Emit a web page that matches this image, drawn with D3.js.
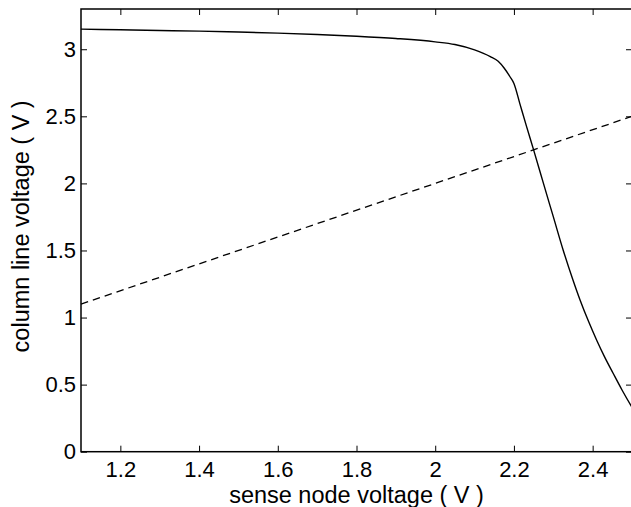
<!DOCTYPE html>
<html>
<head>
<meta charset="utf-8">
<script src="https://cdn.jsdelivr.net/npm/d3@7"></script>
<style>
  html, body { margin: 0; padding: 0; background: #fff; }
  svg { display: block; }
  text { font-family: "Liberation Sans", Arial, Helvetica, sans-serif; fill: #000; }
</style>
</head>
<body>
<svg id="chart" width="631" height="507"></svg>
<script>
// ---- data ----
const senseVoltage = [1.1, 1.2, 1.3, 1.4, 1.5, 1.6, 1.7, 1.8, 1.9, 2.0, 2.05, 2.1, 2.14, 2.16, 2.175, 2.19, 2.2, 2.215, 2.232, 2.25, 2.275, 2.3, 2.325, 2.35, 2.368, 2.39, 2.41, 2.43, 2.452, 2.475, 2.5];
const columnVoltage = [3.15, 3.145, 3.14, 3.135, 3.128, 3.12, 3.11, 3.097, 3.08, 3.055, 3.035, 2.995, 2.945, 2.91, 2.86, 2.795, 2.745, 2.595, 2.425, 2.25, 2.0, 1.752, 1.504, 1.28, 1.131, 0.968, 0.833, 0.709, 0.585, 0.458, 0.33];
const diagonalX = [1.1, 2.5];
const diagonalY = [1.1, 2.5];
const xTicks = [1.2, 1.4, 1.6, 1.8, 2.0, 2.2, 2.4];
const yTicks = [0, 0.5, 1, 1.5, 2, 2.5, 3];
const xDomain = [1.1, 2.5];
const yDomain = [0, 3.3];
const xTitle = "sense node voltage ( V )";
const yTitle = "column line voltage ( V )";

// ---- layout ----
const mLeft = 81, mRight = 632, mTop = 9, mBottom = 451.7;
const svg = d3.select("#chart");
svg.append("rect").attr("width", 631).attr("height", 507).attr("fill", "#fff");

const x = d3.scaleLinear().domain(xDomain).range([mLeft, mRight]);
const y = d3.scaleLinear().domain(yDomain).range([mBottom, mTop]);
const fmt = d => String(+d.toFixed(1));
const fontSize = 22;
const titleSize = 23.5;

function styleAxis(g) {
  g.selectAll(".domain").remove();
  g.selectAll(".tick line").attr("stroke", "#000").attr("stroke-width", 1);
  g.selectAll(".tick text").attr("font-size", fontSize).attr("font-family", '"Liberation Sans", Arial, sans-serif').attr("fill", "#000");
}

// bottom axis
svg.append("g").attr("transform", `translate(0,${mBottom})`)
  .call(d3.axisBottom(x).tickValues(xTicks).tickFormat(fmt).tickSizeInner(-6).tickSizeOuter(0).tickPadding(10))
  .call(styleAxis);
// top axis (ticks only)
svg.append("g").attr("transform", `translate(0,${mTop})`)
  .call(d3.axisTop(x).tickValues(xTicks).tickFormat("").tickSizeInner(-6).tickSizeOuter(0))
  .call(styleAxis);
// left axis
svg.append("g").attr("transform", `translate(${mLeft},0)`)
  .call(d3.axisLeft(y).tickValues(yTicks).tickFormat(fmt).tickSizeInner(-6).tickSizeOuter(0).tickPadding(5))
  .call(styleAxis);
// right axis (ticks only)
svg.append("g").attr("transform", `translate(${mRight},0)`)
  .call(d3.axisRight(y).tickValues(yTicks).tickFormat("").tickSizeInner(-6).tickSizeOuter(0))
  .call(styleAxis);

// box
svg.append("rect")
  .attr("x", mLeft).attr("y", mTop)
  .attr("width", mRight - mLeft).attr("height", mBottom - mTop)
  .attr("fill", "none").attr("stroke", "#000").attr("stroke-width", 1.5);

// curves
const line = d3.line().x(d => x(d[0])).y(d => y(d[1])).curve(d3.curveMonotoneX);
svg.append("path")
  .datum(senseVoltage.map((v, i) => [v, columnVoltage[i]]))
  .attr("d", line)
  .attr("fill", "none").attr("stroke", "#000").attr("stroke-width", 1.4);

svg.append("path")
  .datum(diagonalX.map((v, i) => [v, diagonalY[i]]))
  .attr("d", d3.line().x(d => x(d[0])).y(d => y(d[1])))
  .attr("fill", "none").attr("stroke", "#000").attr("stroke-width", 1.3)
  .attr("stroke-dasharray", "7.5,5");

// titles
svg.append("text")
  .attr("x", (mLeft + mRight) / 2).attr("y", 502.5)
  .attr("text-anchor", "middle").attr("font-size", titleSize)
  .text(xTitle);
svg.append("text")
  .attr("transform", `translate(29,${(mTop + mBottom) / 2 - 4}) rotate(-90)`)
  .attr("text-anchor", "middle").attr("font-size", titleSize)
  .text(yTitle);
</script>
</body>
</html>
